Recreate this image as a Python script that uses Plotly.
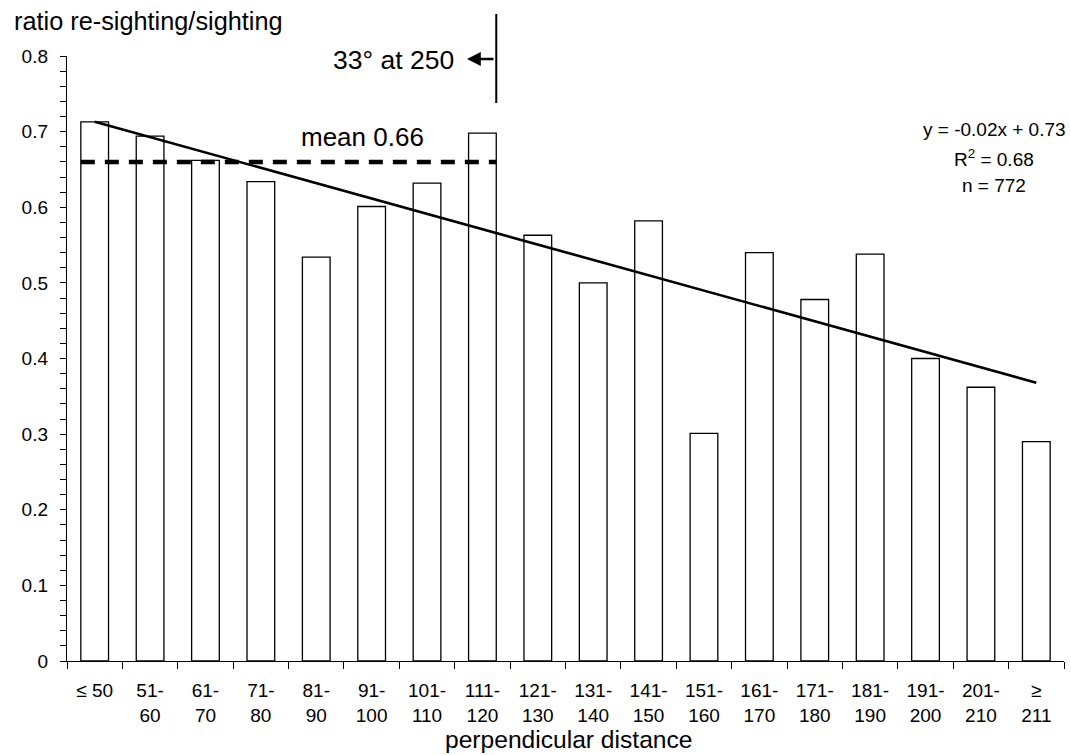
import plotly.graph_objects as go

# ---------------- data ----------------
categories = ["≤ 50", "51-<br>60", "61-<br>70", "71-<br>80", "81-<br>90", "91-<br>100",
              "101-<br>110", "111-<br>120", "121-<br>130", "131-<br>140", "141-<br>150",
              "151-<br>160", "161-<br>170", "171-<br>180", "181-<br>190", "191-<br>200",
              "201-<br>210", "≥<br>211"]
ratios = [0.713, 0.694, 0.662, 0.634, 0.534, 0.601, 0.632, 0.698, 0.563, 0.500,
          0.582, 0.301, 0.540, 0.478, 0.538, 0.400, 0.362, 0.290]
trend_x = [categories[0], categories[-1]]
trend_y = [0.713, 0.368]          # linear fit y = -0.02x + 0.73 at first / last class
mean_ratio = 0.66
mean_first_class = 0
mean_last_class = 7
marker_class = 7                   # class where the "33° at 250" boundary is marked
y_ticks = [0, 0.1, 0.2, 0.3, 0.4, 0.5, 0.6, 0.7, 0.8]
y_tick_text = ["0", "0.1", "0.2", "0.3", "0.4", "0.5", "0.6", "0.7", "0.8"]
equation_lines = ["y = -0.02x + 0.73", "R<sup>2</sup> = 0.68", "n = 772"]

# ---------------- layout geometry ----------------
W, H = 1071, 755
L, R, T, B = 67, 7, 56, 94
PW, PH = W - L - R, H - T - B
FONT = "Liberation Sans, Arial, sans-serif"
BARW = 0.5


def px(xp):
    return (xp - L) / PW


def py(yp):
    return (H - B - yp) / PH


n = len(categories)

fig = go.Figure()
fig.add_trace(go.Bar(
    x=categories, y=ratios, width=BARW,
    marker=dict(color="white", line=dict(color="black", width=1.3)),
    showlegend=False, hoverinfo="skip"))
fig.add_trace(go.Scatter(
    x=trend_x, y=trend_y, mode="lines",
    line=dict(color="black", width=2.6), showlegend=False, hoverinfo="skip"))

marker_x = (marker_class + 0.5 + BARW / 2) / n
shapes = [
    dict(type="line", xref="x", yref="y",
         x0=mean_first_class - BARW / 2, x1=mean_last_class + BARW / 2,
         y0=mean_ratio, y1=mean_ratio,
         line=dict(color="black", width=4.5, dash="14px,10px")),
    dict(type="line", xref="paper", yref="paper",
         x0=marker_x, x1=marker_x, y0=py(14), y1=py(103),
         line=dict(color="black", width=2)),
]

ann = [
    dict(text="ratio re-sighting/sighting", xref="paper", yref="paper",
         x=px(12), y=py(21), xanchor="left", yanchor="middle", showarrow=False,
         font=dict(size=25.3, family=FONT, color="black")),
    dict(text="perpendicular distance", xref="paper", yref="paper",
         x=px(568), y=py(739), xanchor="center", yanchor="middle", showarrow=False,
         font=dict(size=24.6, family=FONT, color="black")),
    dict(text="mean 0.66", xref="paper", yref="paper",
         x=px(362), y=py(137), xanchor="center", yanchor="middle", showarrow=False,
         font=dict(size=26, family=FONT, color="black")),
    dict(text="33° at 250", xref="paper", yref="paper",
         x=px(455.5), y=py(60), xanchor="right", yanchor="middle", showarrow=False,
         font=dict(size=26.5, family=FONT, color="black")),
    dict(text="", xref="paper", yref="paper", x=px(467), y=py(59),
         showarrow=True, ax=28, ay=0, arrowhead=2, arrowsize=1.2, arrowwidth=2.3,
         arrowcolor="black", standoff=0),
]
for txt, yp in zip(equation_lines, [129, 158, 186]):
    ann.append(dict(text=txt, xref="paper", yref="paper", x=px(994), y=py(yp),
                    xanchor="center", yanchor="middle", showarrow=False,
                    font=dict(size=19, family=FONT, color="black")))

fig.update_layout(
    width=W, height=H, margin=dict(l=L, r=R, t=T, b=B, pad=0),
    plot_bgcolor="white", paper_bgcolor="white",
    font=dict(family=FONT, color="black", size=19),
    bargap=0.5, shapes=shapes, annotations=ann,
    xaxis=dict(type="category", range=[-0.5, n - 0.5], showline=True, linecolor="black",
               linewidth=1.4, ticks="outside", tickson="boundaries", ticklen=7,
               tickcolor="black", tickwidth=1.3, showgrid=False, zeroline=False,
               tickfont=dict(size=19, family=FONT, color="black"), ticklabelstandoff=12),
    yaxis=dict(range=[0, 0.8], tickvals=y_ticks, ticktext=y_tick_text, showline=True,
               linecolor="black", linewidth=1.4, ticks="outside", ticklen=6,
               tickcolor="black", tickwidth=1.3, showgrid=False, zeroline=False,
               minor=dict(dtick=0.02, ticks="outside", ticklen=6, tickcolor="black",
                          tickwidth=1.3, showgrid=False),
               tickfont=dict(size=19, family=FONT, color="black"), ticklabelstandoff=8),
)
fig.write_html("out.html", config={"displayModeBar": False},
               post_script="document.body.style.margin='0px';")
